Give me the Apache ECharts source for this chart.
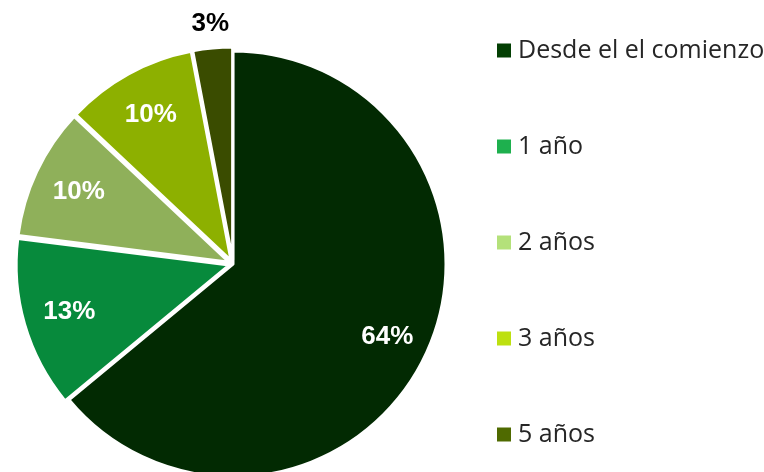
<!DOCTYPE html>
<html>
<head>
<meta charset="utf-8">
<script src="https://cdn.jsdelivr.net/npm/echarts@6/dist/echarts.min.js"></script>
<style>
  html, body { margin: 0; padding: 0; background: #fff; }
  #pie { width: 764px; height: 472px; }
</style>
</head>
<body>
<div id="pie"></div>
<script>
// valores
const categorias = ['Desde el el comienzo', '1 año', '2 años', '3 años', '5 años'];
const porcentajes = [64, 13, 10, 10, 3];
const coloresSector = ['#022a02', '#078a3c', '#8fb05a', '#8db000', '#3a4c00'];
const coloresLeyenda = ['#033f03', '#1eb04e', '#b4e17a', '#bde010', '#4f6a00'];

const centro = [233, 264];
const radio = 213;

const charts = echarts.init(document.getElementById('pie'));

// los sectores pequeños van un poco separados del centro
const datos = categorias.map((c, i) => ({
  name: c,
  value: porcentajes[i],
  selected: i > 0,
  itemStyle: { color: coloresSector[i] },
}));

// capas transparentes solo para colocar las etiquetas
const etiquetasDentro = categorias.map((c, i) => ({
  name: c,
  value: porcentajes[i],
  label: { show: porcentajes[i] > 5 },
}));
const etiquetasFuera = categorias.map((c, i) => ({
  name: c,
  value: porcentajes[i],
  label: { show: porcentajes[i] <= 5 },
}));

const textoEtiqueta = {
  position: 'inside',
  formatter: '{c}%',
  fontFamily: 'Liberation Sans, Arial, sans-serif',
  fontWeight: 'bold',
  fontSize: 26,
};

const option = {
  animation: false,
  legend: {
    orient: 'vertical',
    left: 490,
    top: 33,
    itemWidth: 16,
    itemHeight: 16,
    itemGap: 71,
    icon: 'rect',
    selectedMode: false,
    textStyle: {
      fontFamily: 'Open Sans, sans-serif',
      fontSize: 25,
      color: '#262626',
      padding: [0, 0, 0, 1],
    },
    data: categorias.map((c, i) => ({ name: c, itemStyle: { color: coloresLeyenda[i] } })),
  },
  series: [
    {
      type: 'pie',
      z: 2,
      center: centro,
      radius: [0, radio],
      startAngle: 90,
      silent: true,
      selectedMode: 'multiple',
      selectedOffset: 4,
      label: { show: false },
      labelLine: { show: false },
      itemStyle: { borderColor: '#fff', borderWidth: 3 },
      select: { itemStyle: { borderColor: '#fff', borderWidth: 3 } },
      data: datos,
    },
    {
      type: 'pie',
      z: 5,
      center: centro,
      radius: [122, radio],
      startAngle: 90,
      silent: true,
      itemStyle: { color: 'rgba(0,0,0,0)' },
      label: Object.assign({ color: '#fff' }, textoEtiqueta),
      labelLine: { show: false },
      data: etiquetasDentro,
    },
    {
      type: 'pie',
      z: 5,
      center: centro,
      radius: [radio, 264],
      startAngle: 90,
      silent: true,
      itemStyle: { color: 'rgba(0,0,0,0)' },
      label: Object.assign({ color: '#000' }, textoEtiqueta),
      labelLine: { show: false },
      data: etiquetasFuera,
    },
  ],
};

charts.setOption(option);
</script>
</body>
</html>
